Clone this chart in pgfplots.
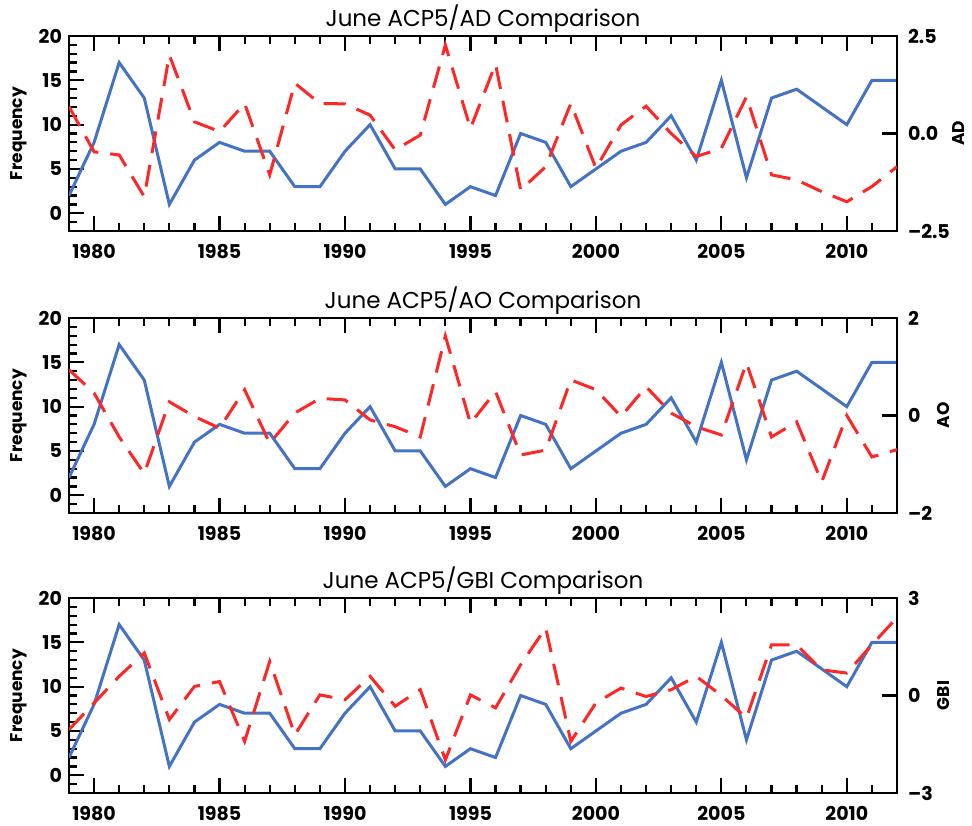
\documentclass[border=0pt]{standalone}
\usepackage{pgfplots}
\pgfplotsset{compat=1.18}
\usepackage{fontspec}
\setmainfont{Poppins}
\definecolor{freqblue}{RGB}{68,114,196}
\definecolor{idxred}{RGB}{255,38,38}

\tikzset{
  rlabel/.style={font=\fontsize{8.5}{10}\selectfont\bfseries, at={(axis description cs:#1,0.5)}, anchor=north, inner sep=0pt},
}
\pgfplotsset{
  panel/.style={
    scale only axis, width=414pt, height=97.5pt,
    xmin=1979, xmax=2012,
    tick align=inside,
    axis line style={line width=1.3pt},
    every tick/.style={black, line width=1.1pt},
    tick label style={font=\fontsize{9.5}{11}\selectfont\bfseries},
    /pgf/number format/assume math mode=true,
    /pgf/number format/1000 sep={},
    clip=true,
  },
  leftpanel/.style={panel,
    ymin=-2, ymax=20,
    ytick={0,5,...,20}, minor ytick={-2,...,20},
    ytick pos=left,
    xtick={1980,1985,...,2010}, minor xtick={1979,...,2012},
    major tick length=7.5pt, minor tick length=4pt,
    xticklabel style={yshift=-3pt},
    title style={font=\fontsize{11.5}{13}\selectfont, at={(0.5,1)}, anchor=base, yshift=-1pt},
    ylabel style={font=\fontsize{8.5}{10}\selectfont\bfseries, at={(axis description cs:-0.05,0.5)}, anchor=south, inner sep=0pt},
    ylabel={Frequency},
  },
  rightpanel/.style={panel,
    axis x line=none, axis y line*=right,
    major tick length=7.5pt,
    yticklabel style={xshift=2pt},
  },
  freq/.style={freqblue, line width=1.5pt},
  idx/.style={idxred, line width=1.5pt, dash pattern=on 11pt off 6pt},
}

\begin{document}
\begin{tikzpicture}
\path[use as bounding box] (-34.5pt,18pt) rectangle (451.5pt,-394.5pt);

% ---- panel 1: AD
\begin{axis}[leftpanel, at={(0,0)}, anchor=north west, title={June ACP5/AD Comparison}]
  \addplot[freq] coordinates {(1979,2) (1980,8) (1981,17) (1982,13) (1983,1) (1984,6) (1985,8) (1986,7) (1987,7) (1988,3) (1989,3) (1990,7) (1991,10) (1992,5) (1993,5) (1994,1) (1995,3) (1996,2) (1997,9) (1998,8) (1999,3) (2000,5) (2001,7) (2002,8) (2003,11) (2004,6) (2005,15) (2006,4) (2007,13) (2008,14) (2009,12) (2010,10) (2011,15) (2012,15)};
\end{axis}
\begin{axis}[rightpanel, at={(0,0)}, anchor=north west,
  ymin=-2.5, ymax=2.5, ytick={-2.5,0,2.5}, yticklabels={–2.5,0.0,2.5},
  ylabel={AD}, ylabel style={rlabel=1.067}]
  \addplot[idx] coordinates {(1979,0.69) (1980,-0.47) (1981,-0.55) (1982,-1.62) (1983,2.01) (1984,0.30) (1985,0.05) (1986,0.77) (1987,-1.06) (1988,1.29) (1989,0.77) (1990,0.76) (1991,0.47) (1992,-0.42) (1993,-0.04) (1994,2.27) (1995,0.13) (1996,1.78) (1997,-1.45) (1998,-0.85) (1999,0.77) (2000,-0.89) (2001,0.22) (2002,0.70) (2003,0.0) (2004,-0.59) (2005,-0.38) (2006,0.94) (2007,-1.06) (2008,-1.19) (2009,-1.49) (2010,-1.75) (2011,-1.36) (2012,-0.85)};
\end{axis}

% ---- panel 2: AO
\begin{axis}[leftpanel, at={(0,-141pt)}, anchor=north west, title={June ACP5/AO Comparison}]
  \addplot[freq] coordinates {(1979,2) (1980,8) (1981,17) (1982,13) (1983,1) (1984,6) (1985,8) (1986,7) (1987,7) (1988,3) (1989,3) (1990,7) (1991,10) (1992,5) (1993,5) (1994,1) (1995,3) (1996,2) (1997,9) (1998,8) (1999,3) (2000,5) (2001,7) (2002,8) (2003,11) (2004,6) (2005,15) (2006,4) (2007,13) (2008,14) (2009,12) (2010,10) (2011,15) (2012,15)};
\end{axis}
\begin{axis}[rightpanel, at={(0,-141pt)}, anchor=north west,
  ymin=-2, ymax=2, ytick={-2,0,2}, yticklabels={–2,0,2},
  ylabel={AO}, ylabel style={rlabel=1.0483}]
  \addplot[idx] coordinates {(1979,0.94) (1980,0.46) (1981,-0.44) (1982,-1.19) (1983,0.28) (1984,-0.02) (1985,-0.26) (1986,0.53) (1987,-0.57) (1988,0.05) (1989,0.35) (1990,0.32) (1991,-0.09) (1992,-0.23) (1993,-0.44) (1994,1.63) (1995,-0.16) (1996,0.49) (1997,-0.81) (1998,-0.71) (1999,0.73) (2000,0.53) (2001,-0.02) (2002,0.59) (2003,0.05) (2004,-0.23) (2005,-0.40) (2006,1.08) (2007,-0.44) (2008,-0.13) (2009,-1.36) (2010,0.0) (2011,-0.85) (2012,-0.70)};
\end{axis}

% ---- panel 3: GBI
\begin{axis}[leftpanel, at={(0,-281pt)}, anchor=north west, title={June ACP5/GBI Comparison}]
  \addplot[freq] coordinates {(1979,2) (1980,8) (1981,17) (1982,13) (1983,1) (1984,6) (1985,8) (1986,7) (1987,7) (1988,3) (1989,3) (1990,7) (1991,10) (1992,5) (1993,5) (1994,1) (1995,3) (1996,2) (1997,9) (1998,8) (1999,3) (2000,5) (2001,7) (2002,8) (2003,11) (2004,6) (2005,15) (2006,4) (2007,13) (2008,14) (2009,12) (2010,10) (2011,15) (2012,15)};
\end{axis}
\begin{axis}[rightpanel, at={(0,-281pt)}, anchor=north west,
  ymin=-3, ymax=3, ytick={-3,0,3}, yticklabels={–3,0,3},
  ylabel={GBI}, ylabel style={rlabel=1.0483}]
  \addplot[idx] coordinates {(1979,-1.05) (1980,-0.23) (1981,0.59) (1982,1.31) (1983,-0.74) (1984,0.28) (1985,0.43) (1986,-1.41) (1987,1.05) (1988,-1.21) (1989,0.02) (1990,-0.13) (1991,0.59) (1992,-0.33) (1993,0.18) (1994,-1.98) (1995,0.02) (1996,-0.38) (1997,0.95) (1998,2.08) (1999,-1.41) (2000,-0.23) (2001,0.23) (2002,-0.03) (2003,0.18) (2004,0.59) (2005,0.0) (2006,-0.69) (2007,1.56) (2008,1.56) (2009,0.79) (2010,0.69) (2011,1.56) (2012,2.4)};
\end{axis}
\end{tikzpicture}
\end{document}
